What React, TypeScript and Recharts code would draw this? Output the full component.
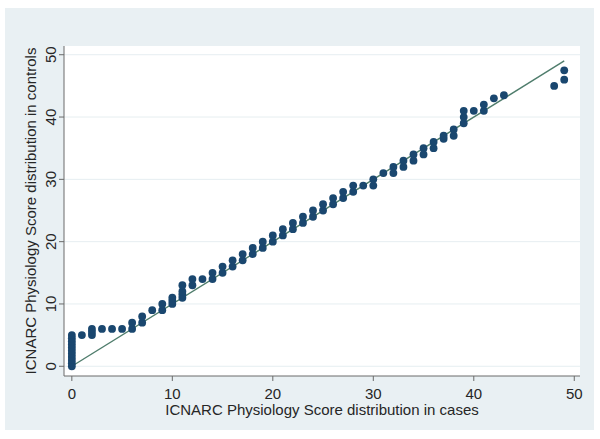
import React from 'react';
import { ScatterChart, Scatter, XAxis, YAxis, CartesianGrid, ReferenceLine, Label } from 'recharts';

// Quantile pairs: case score (x) and control score (y)
const caseScores = [
  0, 0, 0, 0, 0, 0, 0, 0, 0, 0, 0,
  1, 2, 2, 2, 3, 4, 5, 6, 6, 7, 7, 8, 9, 9,
  10, 10, 10, 11, 11, 11, 11, 12, 12, 13, 14, 14,
  15, 15, 16, 16, 17, 17, 18, 18, 19, 19, 20, 20,
  21, 21, 22, 22, 23, 23, 24, 24, 25, 25, 26, 26,
  27, 27, 28, 28, 29, 30, 30, 31, 32, 32, 33, 33,
  34, 34, 35, 35, 36, 36, 37, 37, 38, 38, 39, 39, 39,
  40, 41, 41, 42, 43, 48, 49, 49,
];
const controlScores = [
  0, 0.5, 1, 1.5, 2, 2.5, 3, 3.5, 4, 4.5, 5,
  5, 5, 5.5, 6, 6, 6, 6, 6, 7, 7, 8, 9, 9, 10,
  10, 10.5, 11, 11, 11.5, 12, 13, 13, 14, 14, 14, 15,
  15, 16, 16, 17, 17, 18, 18, 19, 19, 20, 20, 21,
  21, 22, 22, 23, 23, 24, 24, 25, 25, 26, 26, 27,
  27, 28, 28, 29, 29, 29, 30, 31, 31, 32, 32, 33,
  33, 34, 34, 35, 35, 36, 36.5, 37, 37, 38, 39, 40, 41,
  41, 41, 42, 43, 43.5, 45, 46, 47.5,
];
const tickValues = [0, 10, 20, 30, 40, 50];
const lineStart = { x: 0, y: 0 };
const lineEnd = { x: 49, y: 49 };
const xTitle = 'ICNARC Physiology Score distribution in cases';
const yTitle = 'ICNARC Physiology Score distribution in controls';

const points = caseScores.map((x, i) => ({ x, y: controlScores[i] }));

const FONT = '"Liberation Sans", Arial, sans-serif';
const TEXT = '#262626';
const AXIS = '#6a6a6a';

const XTick = (props: any) => {
  const { x, payload } = props;
  return (
    <text x={x} y={398.5} textAnchor="middle" fontFamily={FONT} fontSize={15} fill={TEXT}>
      {payload.value}
    </text>
  );
};

const YTick = (props: any) => {
  const { y, payload } = props;
  const bx = 56;
  return (
    <text
      x={bx}
      y={y}
      transform={`rotate(-90, ${bx}, ${y})`}
      textAnchor="middle"
      fontFamily={FONT}
      fontSize={15}
      fill={TEXT}
    >
      {payload.value}
    </text>
  );
};

const Dot = (props: any) => {
  const { cx, cy } = props;
  return <circle cx={cx} cy={cy} r={3.9} fill="#1a476f" />;
};

export default function App() {
  return (
    <div style={{ position: 'absolute', left: 0, top: 0, width: 600, height: 439, background: '#ffffff' }}>
      <div style={{ position: 'absolute', left: 5, top: 8, width: 589, height: 422, background: '#e9f0f3' }} />
      <div style={{ position: 'absolute', left: 0, top: 0 }}>
        <ScatterChart width={600} height={439} margin={{ top: 46, right: 20, left: 0, bottom: 0 }}>
          <CartesianGrid
            horizontal={true}
            vertical={false}
            fill="#ffffff"
            stroke="#e6eef1"
            strokeWidth={1}
            horizontalValues={tickValues}
          />
          <XAxis
            dataKey="x"
            type="number"
            domain={[-0.78, 50.57]}
            ticks={tickValues}
            allowDataOverflow
            height={63}
            tickSize={5}
            tickLine={{ stroke: AXIS }}
            axisLine={{ stroke: AXIS }}
            tick={<XTick />}
            interval={0}
          >
            <Label
              content={(p: any) => {
                const vb = p.viewBox;
                return (
                  <text
                    x={vb.x + vb.width / 2}
                    y={vb.y + 39}
                    textAnchor="middle"
                    fontFamily={FONT}
                    fontSize={15}
                    fill={TEXT}
                  >
                    {xTitle}
                  </text>
                );
              }}
            />
          </XAxis>
          <YAxis
            dataKey="y"
            type="number"
            domain={[-1.56, 51.4]}
            ticks={tickValues}
            allowDataOverflow
            width={64}
            tickSize={5}
            tickLine={{ stroke: AXIS }}
            axisLine={{ stroke: AXIS }}
            tick={<YTick />}
            interval={0}
          >
            <Label
              content={(p: any) => {
                const vb = p.viewBox;
                const cy = vb.y + vb.height / 2;
                const bx = 36;
                return (
                  <text
                    x={bx}
                    y={cy}
                    transform={`rotate(-90, ${bx}, ${cy})`}
                    textAnchor="middle"
                    fontFamily={FONT}
                    fontSize={15}
                    fill={TEXT}
                  >
                    {yTitle}
                  </text>
                );
              }}
            />
          </YAxis>
          <Scatter data={points} shape={<Dot />} isAnimationActive={false} />
          <ReferenceLine segment={[lineStart, lineEnd]} stroke="#4f7d6c" strokeWidth={1.4} />
        </ScatterChart>
      </div>
    </div>
  );
}
